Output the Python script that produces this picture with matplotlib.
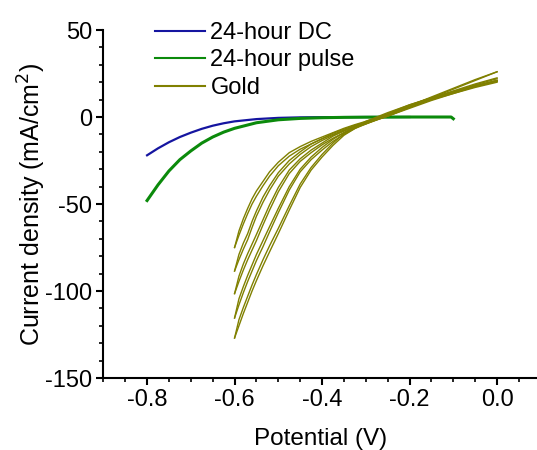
import matplotlib
matplotlib.use("Agg")
import matplotlib.pyplot as plt
from matplotlib.ticker import MultipleLocator

plt.rcParams["font.family"] = ["Liberation Sans", "DejaVu Sans"]
plt.rcParams["axes.unicode_minus"] = False

# --------------------
# Data
# --------------------
dc_v = [-0.8, -0.775, -0.75, -0.725, -0.7, -0.675, -0.65, -0.625, -0.6, -0.55, -0.5, -0.45, -0.4, -0.3, -0.2]
dc_i = [-22, -18, -14.5, -11.5, -9, -6.8, -5, -3.6, -2.5, -1.2, -0.5, -0.2, -0.1, 0, 0]

pulse_v = [-0.8, -0.775, -0.75, -0.725, -0.7, -0.675, -0.65, -0.625, -0.6, -0.55, -0.5,
           -0.45, -0.4, -0.35, -0.3, -0.2, -0.105, -0.1]
pulse_i = [-48, -39, -31, -24.5, -19.5, -15, -11.5, -8.7, -6.5, -3.3, -1.6,
           -0.8, -0.4, -0.2, -0.1, 0, 0, -1.0]

gold_v = [-0.6, -0.59, -0.58, -0.57, -0.56, -0.55, -0.535, -0.52, -0.5, -0.475, -0.45,
          -0.425, -0.4, -0.375, -0.35, -0.325, -0.3, -0.275, -0.25, -0.2, -0.15, -0.1, -0.05, 0.0]
# cathodic sweeps
gold_a = [-75, -68, -61.5, -55.5, -50, -45.5, -39.5, -34, -28, -22.5, -18.5,
          -15.5, -12.5, -10, -7.5, -5.4, -3.5, -1.5, 0.5, 5.0, 9.5, 13.5, 17.5, 21.0]
gold_b = [-88.5, -82, -76, -70.5, -63.5, -57, -49, -42, -34, -27, -21.5,
          -17, -13.5, -10.5, -8, -5.7, -3.8, -1.6, 0.5, 5.5, 11.0, 16.0, 21.0, 26.0]
gold_c = [-101.5, -94.5, -88, -82, -76.5, -71, -62, -53.5, -43, -32.5, -25.5,
          -20.5, -16, -12.2, -9, -6.2, -4.0, -1.7, 0.5, 5.5, 10.0, 14.5, 18.5, 22.0]
gold_d = [-115.5, -108, -101, -94.5, -88.5, -82.5, -74.5, -66, -55, -42, -31.5,
          -24.5, -19, -14, -10, -6.6, -4.0, -1.4, 1.0, 6.0, 10.5, 14.0, 17.5, 20.5]
gold_e = [-127, -120, -113, -106.5, -100, -94, -85.5, -77.5, -67, -53.5, -40.5,
          -30.5, -23, -16.3, -10.5, -6.6, -3.5, -0.9, 1.5, 6.0, 10.0, 13.5, 17.0, 20.0]
# return sweeps
gold_a_r = [-75, -65.5, -58.5, -52.5, -47, -42.5, -37, -31.5, -26, -20.5, -17,
            -14, -11.5, -9, -6.5, -4.4, -2.5, -0.5, 1.5, 6.0, 10.5, 14.5, 18.0, 21.0]
gold_b_r = [-88.5, -79, -72.5, -67, -60, -54, -46, -39.5, -32, -25, -20,
            -15.5, -12.5, -9.3, -7, -4.8, -3.0, -0.7, 1.5, 6.5, 11.5, 16.5, 21.5, 26.0]
gold_c_r = [-101.5, -91.5, -84.5, -78.5, -73, -67.5, -59, -50.5, -40.5, -30.5, -24,
            -19, -15, -11, -8, -5.2, -3.0, -0.8, 1.5, 6.5, 11.0, 15.0, 19.0, 22.5]
gold_d_r = [-115.5, -104.5, -97.5, -91, -85, -79, -71, -63, -52.5, -40, -30,
            -23, -17.5, -12.8, -9, -5.8, -3.0, -0.5, 2.0, 7.0, 11.0, 14.5, 18.0, 21.0]
gold_e_r = [-127, -116.5, -109.5, -103, -96.5, -90.5, -82, -74, -64, -51, -38.5,
            -29, -21.5, -15, -9.5, -5.8, -2.5, 0.0, 2.5, 7.0, 11.0, 14.0, 17.5, 20.5]

gold_curves = [gold_a, gold_b, gold_c, gold_d, gold_e,
               gold_a_r, gold_b_r, gold_c_r, gold_d_r, gold_e_r]

blue = "#1515a0"
green = "#0b8a0b"
olive = "#808000"

# --------------------
# Plot
# --------------------
fig = plt.figure(figsize=(5.37, 4.5), dpi=100)
ax = fig.add_axes([0.1924, 0.16, 0.8076, 0.7733])

ax.plot(dc_v, dc_i, color=blue, lw=1.6, label="24-hour DC")
ax.plot(pulse_v, pulse_i, color=green, lw=2.2, label="24-hour pulse")
for k, curve in enumerate(gold_curves):
    ax.plot(gold_v, curve, color=olive, lw=1.0, label="Gold" if k == 0 else None)

ax.set_xlim(-0.9, 0.0913)
ax.set_ylim(-150, 50)
ax.xaxis.set_major_locator(MultipleLocator(0.2))
ax.xaxis.set_minor_locator(MultipleLocator(0.05))
ax.yaxis.set_major_locator(MultipleLocator(50))
ax.yaxis.set_minor_locator(MultipleLocator(10))
ax.xaxis.set_major_formatter(plt.FuncFormatter(lambda v, p: f"{v:.1f}"))

for s in ["top", "right"]:
    ax.spines[s].set_visible(False)
for s in ["left", "bottom"]:
    ax.spines[s].set_linewidth(1.5)

ax.tick_params(which="major", direction="out", length=5, width=1.5, labelsize=17, pad=3)
ax.tick_params(which="minor", direction="out", length=3, width=1.2)

ax.set_xlabel("Potential (V)", fontsize=17.5, labelpad=12)
ax.set_ylabel("Current density (mA/cm$^2$)", fontsize=18, labelpad=-2)

leg = ax.legend(loc="upper left", bbox_to_anchor=(155 / 537, 1 - 22 / 450),
                bbox_transform=fig.transFigure, frameon=False, borderpad=0,
                borderaxespad=0, fontsize=17, handlelength=2.1, handletextpad=0.25,
                labelspacing=0.23)
for line in leg.get_lines():
    line.set_linewidth(1.5)

plt.savefig("out.png", dpi=100)
